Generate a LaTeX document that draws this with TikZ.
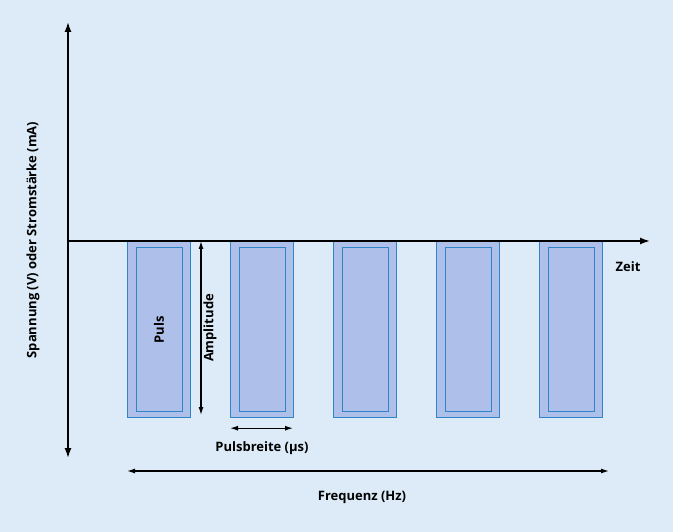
\documentclass[tikz,border=0pt]{standalone}
\usepackage{fontspec}
\setmainfont{Open Sans}
\usetikzlibrary{arrows.meta}
\definecolor{bgblue}{HTML}{DDEBF8}
\definecolor{pulsfill}{HTML}{AEC0E9}
\definecolor{pulsline}{HTML}{2E86C8}
\tikzset{
  pulsbox/.style={draw=pulsline, fill=pulsfill, line width=1.2pt},
  pulsinner/.style={draw=pulsline, line width=1.2pt},
  achse/.style={-{Latex[length=10pt,width=7pt]}, line width=1.5pt},
  mass/.style={{Latex[length=8pt,width=5pt]}-{Latex[length=8pt,width=5pt]}, line width=1.2pt},
  lbl/.style={font=\bfseries\fontsize{13}{15}\selectfont}
}
\begin{document}
\begin{tikzpicture}[x=1pt,y=-1pt]
    \fill[bgblue] (0,0) rectangle (673,532);
    \useasboundingbox (0,0) rectangle (673,532);
    % pulses
    \foreach \i in {0,...,4} {
      \node (p\i) [pulsbox, minimum width=63pt, minimum height=176pt, inner sep=0pt, anchor=north west] at (127+103*\i,241) {};
      \node (q\i) [pulsinner, minimum width=46pt, minimum height=164pt, inner sep=0pt] at (p\i.center) {};
    }
    % axes
    \coordinate (o) at (68,241);
    \coordinate (ytop) at (68,22);
    \coordinate (ybot) at (68,458);
    \coordinate (xend) at (650,241);
    \draw [achse] (o) -- (ytop);
    \draw [achse] (o) -- (ybot);
    \draw [achse] (o) -- (xend);
    \node (zeit) [lbl] at (628,267) {Zeit};
    \node (ylab) [lbl, rotate=90] at (33,240) {Spannung (V) oder Stromstärke (mA)};
    \node (puls) [lbl, rotate=90] at (p0.center) {Puls};
    % measures
    \draw [mass] (201,241) -- node [lbl, rotate=90, below, inner sep=2pt] {Amplitude} (201,415);
    \draw [mass] (p1.south west) ++(0,10) -- ++(63,0);
    \node (breite) [lbl] at (262,448) {Pulsbreite (µs)};
    \draw [mass] (127,471) -- (609,471);
    \node (freq) [lbl] at (362,497) {Frequenz (Hz)};
\end{tikzpicture}
\end{document}
